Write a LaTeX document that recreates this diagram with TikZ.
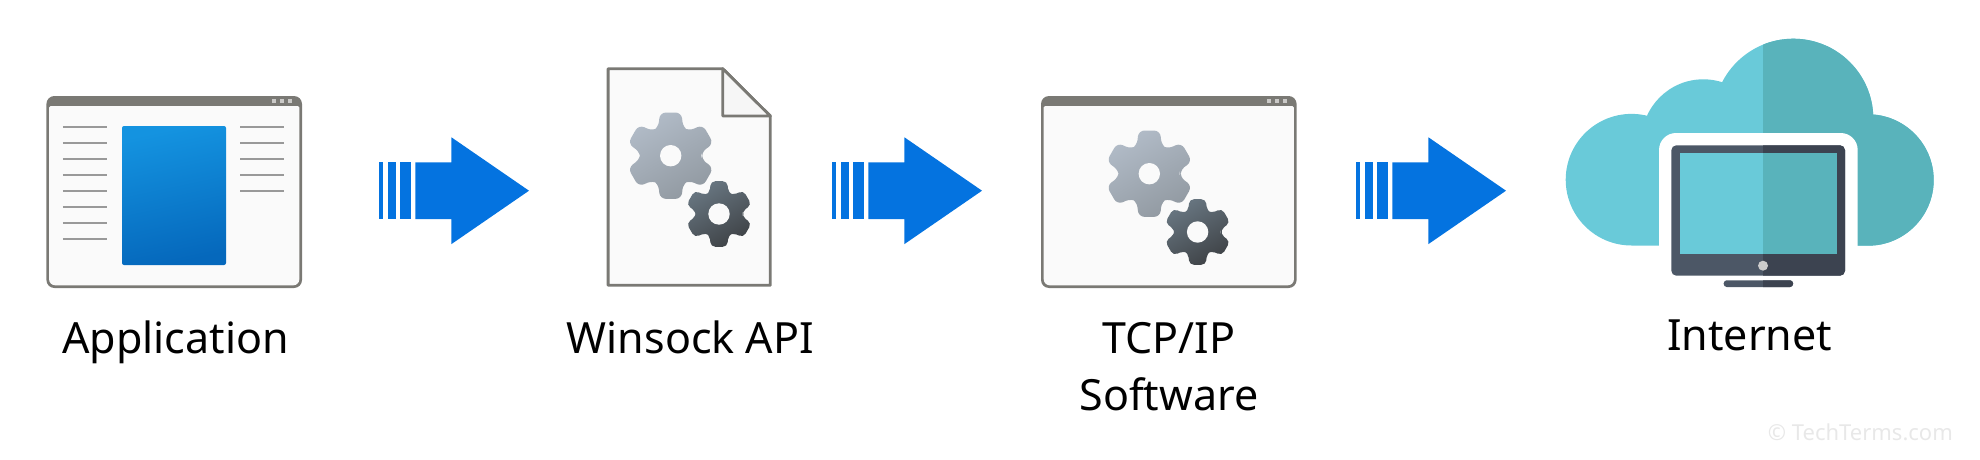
\documentclass[tikz,border=0pt]{standalone}
\usepackage{fontspec}
\setmainfont{Noto Sans}
\definecolor{winframe}{HTML}{7A7974}
\definecolor{winpaper}{HTML}{FAFAFA}
\definecolor{foldpaper}{HTML}{F6F6F6}
\definecolor{flowblue}{HTML}{0473E0}
\definecolor{paneltop}{HTML}{1493E0}
\definecolor{panelbottom}{HTML}{0568BC}
\definecolor{geartop}{HTML}{B1BBC7}
\definecolor{gearbottom}{HTML}{929AA2}
\definecolor{darkgeartop}{HTML}{687681}
\definecolor{darkgearbottom}{HTML}{3F4347}
\definecolor{cloudleft}{HTML}{69CAD9}
\definecolor{cloudright}{HTML}{59B3BB}
\definecolor{screenleft}{HTML}{4C5766}
\definecolor{screenright}{HTML}{3C4350}
\tikzset{
	labeltext/.style={anchor=base,font=\fontsize{43}{57.7}\selectfont,text=black,inner sep=0pt,align=center},
	textline/.style={line width=1.7pt,color=black!40,line cap=butt},
	paper/.style={fill=winpaper},
}
\newcommand{\flowarrow}[1]{
	\begin{scope}[shift={(#1,190.7)}]
	\fill[flowblue] (0,-28.4) rectangle (4.2,28.4);
	\fill[flowblue] (8.5,-28.4) rectangle (17,28.4);
	\fill[flowblue] (21,-28.4) rectangle (31.7,28.4);
	\fill[flowblue] (36.4,-28.4) -- (72.4,-28.4) -- (72.4,-53.4) -- (150,0) -- (72.4,53.4) -- (72.4,28.4) -- (36.4,28.4) -- cycle;
	\end{scope}
}
\newcommand{\gearshape}[6]{
	\begin{scope}[shift={(#1,#2)},scale=#3]
	\shade[top color=#4,bottom color=#5,shading angle=30,rounded corners=#6] (0:31) \foreach \a in {30,90,...,330}{ -- (\a-24:30.5) -- (\a-14:44.5) -- (\a+14:44.5) -- (\a+24:30.5)} -- cycle;
	\end{scope}
	\fill[winpaper] (#1,#2) circle (10.7);
}
\newcommand{\gearpair}[2]{
	\gearshape{#1}{#2}{1}{geartop}{gearbottom}{6pt}
	\gearshape{#1+48.3}{#2+58.3}{0.76}{darkgeartop}{darkgearbottom}{4.5pt}
}
\newcommand{\appwindow}[1]{
	\begin{scope}[shift={(#1,0)}]
	\fill[winframe,rounded corners=8pt] (0,96) rectangle (255.6,288);
	\fill[paper] (2.7,200) [rounded corners=1.5pt] -- (2.7,106) -- (252.9,106) -- (252.9,200) [rounded corners=6pt] -- (252.9,285.3) -- (2.7,285.3) -- cycle;
	\foreach \d in {225.6,233.6,241.6}{
		\fill[winframe!40!white] (\d,99) rectangle (\d+4,103);
	}
	\end{scope}
}
\newcommand{\cloudshape}{
	(1631.5,179.7) circle (65.8) (1703.3,141) circle (61.7) (1793.3,118.7) circle (80) (1868,180) circle (65.7) (1868,160) rectangle (1631.5,245.5)
}
\begin{document}
\begin{tikzpicture}[x=1pt,y=-1pt,line cap=round,line join=round]
	\useasboundingbox (0,0) rectangle (1980,460);
\appwindow{46.4}
\foreach \y in {127,143,...,239}{
	\draw[textline] (62.9,\y) -- (107,\y);
}
\foreach \y in {127,143,...,191}{
	\draw[textline] (240,\y) -- (284,\y);
}
\shade[rounded corners=2pt,top color=paneltop,bottom color=panelbottom,shading angle=12] (122,126) rectangle (226,265);
\node[labeltext] (application) at (175.5,353) {Application};
\flowarrow{379}
	\draw[line width=2.8pt,color=winframe,paper] (608.1,68.7) -- (722.7,68.7) -- (770.3,116) -- (770.3,285.3) -- (608.1,285.3) -- cycle;
	\draw[line width=2.8pt,color=winframe,fill=foldpaper] (722.7,68.7) -- (770.3,116) -- (722.7,116) -- cycle;
\gearpair{670.7}{155.7}
\node[labeltext] (winsock) at (690.3,353) {Winsock API};
\flowarrow{832}
\appwindow{1041}
\gearpair{1149.3}{173.7}
\node[labeltext] (tcpip) at (1169,410.7) {TCP/IP\\Software};
\flowarrow{1356}
\fill[cloudleft] \cloudshape;
\begin{scope}
	\clip (1763,0) rectangle (1980,300);
	\fill[cloudright] \cloudshape;
\end{scope}
\fill[white,rounded corners=17pt] (1659,270) -- (1659,133) -- (1857.7,133) -- (1857.7,270) -- cycle;
\fill[screenleft,rounded corners=5pt] (1671.3,145.3) rectangle (1845,275.7);
\begin{scope}
	\clip (1763,0) rectangle (1980,300);
	\fill[screenright,rounded corners=5pt] (1671.3,145.3) rectangle (1845,275.7);
\end{scope}
\fill[cloudleft] (1679.7,153.3) rectangle (1763,254.3);
\fill[cloudright] (1763,153.3) rectangle (1837,254.3);
\fill[black!20] (1763,265.7) circle (5);
\fill[screenleft,rounded corners=3pt] (1723.7,280.3) rectangle (1793,287);
\begin{scope}
	\clip (1763,270) rectangle (1800,300);
	\fill[screenright,rounded corners=3pt] (1723.7,280.3) rectangle (1793,287);
\end{scope}
\node[labeltext] (internet) at (1749.7,350) {Internet};
\node[anchor=base east,inner sep=0pt,text=black!9,font=\fontsize{22}{22}\selectfont] (copyright) at (1953,440) {© TechTerms.com};
\end{tikzpicture}
\end{document}
